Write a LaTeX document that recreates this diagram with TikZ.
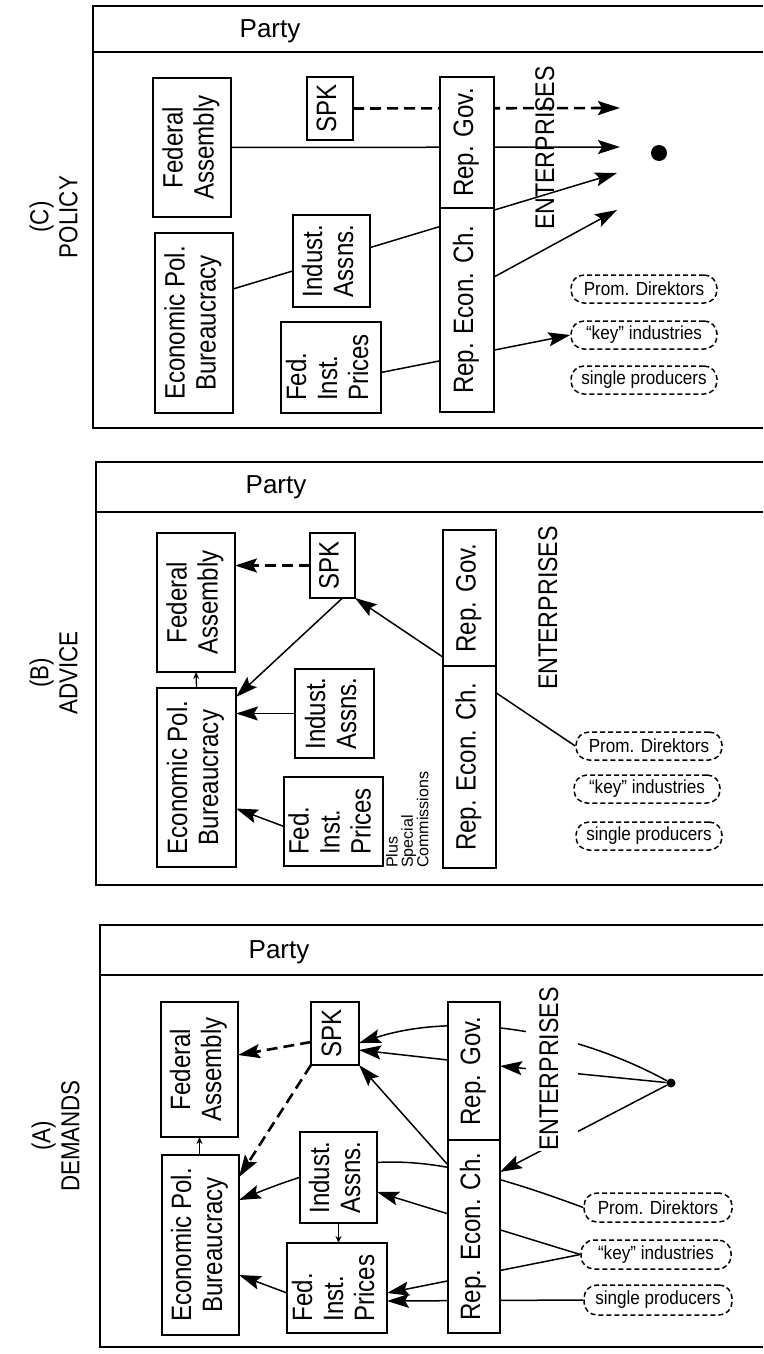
\documentclass[tikz,border=0pt]{standalone}
\usepackage{fontspec}
\setmainfont{Liberation Sans}[FakeStretch=0.86]
\newfontfamily\tagfont{Liberation Sans}
\newfontfamily\smallfont{Liberation Sans}[FakeStretch=0.9]
\usepackage{graphicx}
\usetikzlibrary{arrows.meta,backgrounds}

% text in the boxes reads upwards
\newcommand{\uptext}[2][c]{\rotatebox{90}{\begin{tabular}{@{}#1@{}}#2\end{tabular}}}

\begin{document}
\begin{tikzpicture}[x=1pt, y=-1pt,
  box/.style={draw, fill=white, line width=1.8pt, inner sep=0pt, outer sep=0pt, font=\fontsize{28}{31}\selectfont},
  side/.style={inner sep=0pt, font=\fontsize{26}{29}\selectfont},
  party/.style={inner sep=0pt, font=\tagfont\fontsize{26}{30}\selectfont},
  ent/.style={inner sep=0pt, font=\fontsize{27}{30}\selectfont},
  tag/.style={draw, fill=white, dash pattern=on 5pt off 3pt, rounded corners=13pt, line width=1.5pt,
    minimum width=146, minimum height=28, inner sep=0pt, font=\smallfont\fontsize{19}{22}\selectfont},
  dot/.style={circle, fill, inner sep=0pt},
  frame/.style={line width=2.2pt},
  arr/.style={-{Stealth[length=22pt,width=14pt,inset=4pt]}, line width=1.5pt},
  dasharr/.style={arr, line width=2.6pt, dash pattern=on 11pt off 6pt},
  tick/.style={-{Stealth[length=7pt,width=6pt]}, line width=1.3pt},
]
\useasboundingbox (0,0) rectangle (763,1354);

% (C) policy
\draw[frame] (763,6) -- (93,6) -- (93,428) -- (763,428);
\draw[frame] (93,52) -- (763,52);
\node[party] (partyC) at (270,31) {Party};
\node[side] (sideC) at (57,217) {\uptext{(C)\\POLICY}};
\node[box, minimum width=78, minimum height=139] (faC) at (192,147.5) {\uptext{Federal\\Assembly}};
\node[box, minimum width=78, minimum height=180] (epbC) at (194,323) {\uptext{Economic Pol.\\Bureaucracy}};
\node[box, minimum width=46, minimum height=63] (spkC) at (330,108.5) {\uptext{SPK}};
\node[box, minimum width=77, minimum height=92] (iaC) at (331.5,261) {\uptext{Indust.\\Assns.}};
\node[box, minimum width=100, minimum height=91] (fipC) at (331,367.5) {\uptext[l]{Fed.\\Inst.\\Prices}};
\node[box, minimum width=54, minimum height=131] (govC) at (467,142.5) {\uptext{Rep. Gov.}};
\node[box, minimum width=54, minimum height=204] (recC) at (467,310) {\uptext{Rep. Econ. Ch.}};
\node[ent] (entC) at (548,148) {\uptext{ENTERPRISES}};
\node[dot, minimum size=16] (dotC) at (659,153) {};
\node[tag] (promC) at (644,289) {Prom. Direktors};
\node[tag] (keyC) at (644,335) {“key” industries};
\node[tag] (singleC) at (644,380) {single producers};
\coordinate (c1) at (620,108);
\coordinate (c2) at (620,147);
\coordinate (c3) at (617,173);
\coordinate (c4) at (617,210);
\begin{pgfonlayer}{background}
\draw[dasharr] (spkC.east) -- (c1);
\draw[arr] (faC.east) -- (c2);
\draw[arr] ([yshift=34pt]epbC.east) -- (c3);
\draw[arr] ([yshift=33pt]recC.east) -- (c4);
\draw[arr] ([yshift=-5pt]fipC.east) -- (keyC.west);
\end{pgfonlayer}

% (B) advice
\draw[frame] (763,462) -- (96,462) -- (96,885) -- (763,885);
\draw[frame] (96,512) -- (763,512);
\node[party] (partyB) at (276,487) {Party};
\node[side] (sideB) at (57,673) {\uptext{(B)\\ADVICE}};
\node[box, minimum width=78, minimum height=139] (faB) at (196,602.5) {\uptext{Federal\\Assembly}};
\node[box, minimum width=79, minimum height=179] (epbB) at (196.5,777.5) {\uptext{Economic Pol.\\Bureaucracy}};
\node[box, minimum width=45, minimum height=65] (spkB) at (332.5,565.5) {\uptext{SPK}};
\node[box, minimum width=79, minimum height=89] (iaB) at (334.5,713.5) {\uptext{Indust.\\Assns.}};
\node[box, minimum width=99, minimum height=89] (fipB) at (333.5,821.5) {\uptext[l]{Fed.\\Inst.\\Prices}};
\node[inner sep=0pt, anchor=south, font=\tagfont\fontsize{16}{12.5}\selectfont] (plusB) at (409,868)
  {\uptext[l]{Plus\\Special\\Commissions}};
\node[box, minimum width=53, minimum height=136] (govB) at (469.5,598) {\uptext{Rep. Gov.}};
\node[box, minimum width=53, minimum height=202] (recB) at (469.5,767) {\uptext{Rep. Econ. Ch.}};
\node[ent] (entB) at (551,608) {\uptext{ENTERPRISES}};
\node[tag] (promB) at (649,746) {Prom. Direktors};
\node[tag] (keyB) at (647,789) {“key” industries};
\node[tag] (singleB) at (649,836) {single producers};
\begin{pgfonlayer}{background}
\draw[dasharr] (spkB.west) -- (spkB.west -| faB.east);
\draw[arr] ([xshift=10pt]spkB.south) -- ([yshift=-9pt]epbB.north east);
\draw[tick] (epbB.north) -- (faB.south);
\draw[arr] (iaB.west) -- (iaB.west -| epbB.east);
\draw[arr] ([yshift=-5pt]fipB.west) -- ([yshift=-31pt]epbB.east);
\draw[arr] (promB.west) -- (spkB.south east);
\end{pgfonlayer}

% (A) demands
\draw[frame] (763,925) -- (100,925) -- (100,1347) -- (763,1347);
\draw[frame] (100,975) -- (763,975);
\node[party] (partyA) at (279,952) {Party};
\node[side] (sideA) at (59,1136) {\uptext{(A)\\DEMANDS}};
\node[box, minimum width=77, minimum height=135] (faA) at (199.5,1069.5) {\uptext{Federal\\Assembly}};
\node[box, minimum width=77, minimum height=180] (epbA) at (200.5,1245) {\uptext{Economic Pol.\\Bureaucracy}};
\node[box, minimum width=48, minimum height=63] (spkA) at (335,1033.5) {\uptext{SPK}};
\node[box, minimum width=77, minimum height=91] (iaA) at (338.5,1177.5) {\uptext{Indust.\\Assns.}};
\node[box, minimum width=100, minimum height=90] (fipA) at (337,1288) {\uptext[l]{Fed.\\Inst.\\Prices}};
\node[box, minimum width=52, minimum height=138] (govA) at (474,1071) {\uptext{Rep. Gov.}};
\node[box, minimum width=52, minimum height=193] (recA) at (474,1236.5) {\uptext{Rep. Econ. Ch.}};
\node[ent, fill=white, inner xsep=11pt] (entA) at (552,1069) {\uptext{ENTERPRISES}};
\node[dot, minimum size=9] (dotA) at (671,1083) {};
\node[tag, minimum width=148, minimum height=29] (promA) at (658,1207.5) {Prom. Direktors};
\node[tag, minimum width=150, minimum height=29] (keyA) at (656,1254.5) {“key” industries};
\node[tag, minimum width=148, minimum height=30] (singleA) at (658,1300) {single producers};
\begin{pgfonlayer}{background}
\draw[dasharr] ([yshift=-8.5pt]spkA.west) -- ([yshift=14.5pt]faA.east);
\draw[dasharr] (spkA.south west) -- ([yshift=-22pt]epbA.north east);
\draw[tick, {Stealth[length=7pt,width=6pt]}-] (faA.south) -- (faA.south |- epbA.north);
\draw[arr] (dotA) .. controls (570,1028) and (455,1012) .. ([yshift=-9.5pt]spkA.east);
\draw[arr] (dotA) -- ([yshift=5pt]govA.east);
\draw[arr] ([yshift=11pt]govA.west) -- ([yshift=-16.5pt]spkA.east);
\draw[arr] (dotA) -- ([yshift=-32pt]recA.north east);
\draw[arr] ([yshift=-25pt]recA.north west) -- (spkA.south east);
\draw[arr] (promA.west) .. controls (428,1150) and (366,1149) .. ([yshift=45pt]epbA.east);
\draw[arr] (keyA.west) -- ([yshift=-14.5pt]iaA.east);
\draw[arr] (keyA.west) -- ([yshift=-5pt]fipA.east);
\draw[arr] (singleA.west) -- ([yshift=-13pt]fipA.east);
\draw[arr] ([yshift=-5pt]fipA.west) -- ([yshift=-30pt]epbA.east);
\draw[tick] (iaA.south) -- (iaA.south |- fipA.north);
\end{pgfonlayer}
\end{tikzpicture}
\end{document}
